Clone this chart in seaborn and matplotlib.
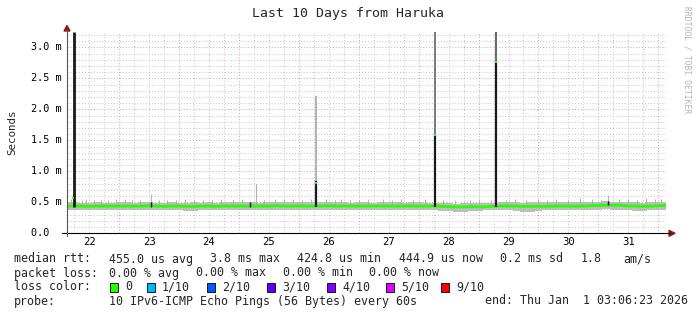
import numpy as np
import pandas as pd
import matplotlib
matplotlib.use("Agg")
import matplotlib.pyplot as plt
import seaborn as sns
from matplotlib.patches import Rectangle, Polygon
from matplotlib.lines import Line2D
import matplotlib.transforms as mtransforms

# ---------------- data ----------------
title = "Last 10 Days from Haruka"
start_day = 22.129          # Dec 22 03:06
step_days = 0.125           # 3-hour samples
median_ms = [0.44, 0.44, 0.44, 0.435, 0.44, 0.44, 0.44, 0.44,
             0.44, 0.44, 0.44, 0.445, 0.44, 0.435, 0.44, 0.44,
             0.435, 0.435, 0.44, 0.44, 0.435, 0.44, 0.44, 0.44,
             0.44, 0.44, 0.44, 0.44, 0.445, 0.44, 0.44, 0.44,
             0.44, 0.44, 0.44, 0.445, 0.44, 0.44, 0.44, 0.44,
             0.44, 0.44, 0.44, 0.44, 0.44, 0.44, 0.44, 0.44,
             0.44, 0.44, 0.435, 0.43, 0.425, 0.425, 0.43, 0.425,
             0.43, 0.435, 0.44, 0.44, 0.44, 0.435, 0.435, 0.435,
             0.435, 0.44, 0.44, 0.44, 0.44, 0.44, 0.445, 0.45,
             0.455, 0.455, 0.45, 0.44, 0.44, 0.435, 0.44, 0.445, 0.45]
smoke_high_ms = [0.50, 0.50, 0.49, 0.49, 0.50, 0.49, 0.49, 0.50,
                 0.50, 0.49, 0.50, 0.51, 0.49, 0.49, 0.50, 0.49,
                 0.49, 0.50, 0.49, 0.50, 0.49, 0.50, 0.51, 0.50,
                 0.50, 0.50, 0.49, 0.50, 0.51, 0.50, 0.50, 0.50,
                 0.50, 0.50, 0.50, 0.51, 0.50, 0.50, 0.49, 0.50,
                 0.50, 0.49, 0.50, 0.50, 0.50, 0.49, 0.50, 0.50,
                 0.49, 0.49, 0.49, 0.49, 0.48, 0.49, 0.49, 0.49,
                 0.49, 0.49, 0.50, 0.50, 0.50, 0.49, 0.50, 0.50,
                 0.50, 0.50, 0.50, 0.50, 0.50, 0.50, 0.51, 0.51,
                 0.52, 0.51, 0.50, 0.50, 0.50, 0.49, 0.50, 0.51, 0.51]
smoke_low_ms = [0.38, 0.38, 0.38, 0.37, 0.38, 0.38, 0.38, 0.38,
                0.38, 0.38, 0.38, 0.38, 0.38, 0.37, 0.37, 0.37,
                0.36, 0.36, 0.37, 0.37, 0.37, 0.37, 0.38, 0.38,
                0.38, 0.38, 0.38, 0.38, 0.38, 0.38, 0.38, 0.38,
                0.38, 0.38, 0.38, 0.38, 0.38, 0.38, 0.38, 0.38,
                0.38, 0.38, 0.38, 0.38, 0.37, 0.38, 0.38, 0.38,
                0.37, 0.37, 0.36, 0.36, 0.35, 0.35, 0.36, 0.36,
                0.37, 0.37, 0.37, 0.37, 0.36, 0.35, 0.35, 0.36,
                0.37, 0.37, 0.37, 0.38, 0.38, 0.37, 0.38, 0.38,
                0.39, 0.38, 0.37, 0.37, 0.36, 0.36, 0.37, 0.38, 0.38]

# thin single-ping outliers above the smoke
hair_day = [22.20, 22.27, 22.38, 22.45, 22.58, 22.70, 22.82, 22.95, 23.10,
            23.22, 23.35, 23.53, 23.66, 23.80, 23.95, 24.10, 24.25, 24.40,
            24.55, 24.70, 24.90, 25.05, 25.28, 25.42, 25.60, 25.75, 25.90,
            26.05, 26.20, 26.45, 26.60, 26.70, 26.85, 27.00, 27.15, 27.40,
            27.55, 27.70, 27.90, 28.10, 28.40, 28.60, 28.85, 29.00, 29.20,
            29.45, 29.60, 29.80, 30.00, 30.15, 30.30, 30.50, 30.70, 30.90,
            31.05, 31.16, 31.35, 31.50, 31.65, 31.80, 31.95, 32.05]
hair_top_ms = [0.55, 0.60, 0.53, 0.55, 0.53, 0.54, 0.53, 0.55, 0.55,
               0.53, 0.54, 0.64, 0.53, 0.54, 0.53, 0.56, 0.53, 0.54,
               0.53, 0.55, 0.54, 0.56, 0.80, 0.54, 0.55, 0.56, 0.55,
               0.54, 0.55, 0.56, 0.54, 0.56, 0.53, 0.54, 0.55, 0.56,
               0.54, 0.55, 0.53, 0.56, 0.53, 0.54, 0.53, 0.55, 0.54,
               0.53, 0.56, 0.54, 0.56, 0.53, 0.55, 0.54, 0.57, 0.55,
               0.54, 0.62, 0.55, 0.56, 0.54, 0.57, 0.55, 0.56]

# small dense blips
blip_day = [23.53, 25.18, 31.16]
blip_low_ms = [0.42, 0.42, 0.45]
blip_high_ms = [0.50, 0.51, 0.52]

# large latency spikes
spike_day = [22.25, 26.28, 28.28, 29.29]
spike_dense_top_ms = [3.25, 0.85, 1.60, 2.78]
spike_smoke_top_ms = [3.25, 2.21, 3.25, 3.25]
spike_smoke_color = ["#333333", "#b0b0b0", "#7a7a7a", "#666666"]
spike_median_day = [22.23, 26.28, 28.28, 29.29]
spike_median_ms = [0.57, 0.82, 1.59, 2.77]

ytick_vals = [0.0, 0.5, 1.0, 1.5, 2.0, 2.5, 3.0]
ytick_labels = ["0.0  ", "0.5 m", "1.0 m", "1.5 m", "2.0 m", "2.5 m", "3.0 m"]
day_labels = ["22", "23", "24", "25", "26", "27", "28", "29", "30", "31"]

legend_rows = [
    [("median rtt:", 14), ("455.0 us avg", 109), ("3.8 ms max", 210),
     ("424.8 us min", 297), ("444.9 us now", 399), ("0.2 ms sd", 500),
     ("1.8", 581), ("am/s", 623)],
    [("packet loss:", 14), ("0.00 % avg", 109), ("0.00 % max", 196),
     ("0.00 % min", 283), ("0.00 % now", 369)],
    [("loss color:", 14)],
    [("probe:", 14), ("10 IPv6-ICMP Echo Pings (56 Bytes) every 60s", 109),
     ("end: Thu Jan  1 03:06:23 2026", 485)],
]
loss_labels = ["0", "1/10", "2/10", "3/10", "4/10", "5/10", "9/10"]
loss_colors = ["#26ff00", "#00b8ff", "#0059ff", "#5e00ff", "#7e00ff", "#dd00ff", "#ff0000"]
loss_box_x = [110, 147, 207, 267, 327, 386, 441]

# ---------------- drawing ----------------
sns.set_theme(style="white")
plt.rcParams['font.family'] = ['DejaVu Sans Mono', 'DejaVu Sans']

W, H = 697, 315
fig = plt.figure(figsize=(W / 100, H / 100), dpi=100)
fig.patch.set_facecolor("white")

x0, x1 = 67, 666
y0, y1 = 233.3, 32
ax = fig.add_axes([x0 / W, (H - y0) / H, (x1 - x0) / W, (y0 - y1) / H])
ax.set_facecolor("white")

days = start_day + step_days * np.arange(len(median_ms))
df = pd.DataFrame({"day": days, "median": median_ms,
                   "low": smoke_low_ms, "high": smoke_high_ms})

ax.set_xlim(22.129, 32.129)
ax.set_ylim(0, 3.25)

# grid
minor_x = np.arange(22.25, 32.13, 0.25)
major_x = np.arange(23, 33, 1)
minor_y = np.arange(0.1, 3.25, 0.1)
major_y = np.arange(0.5, 3.25, 0.5)
for v in minor_x:
    if abs(v - round(v)) > 1e-6:
        ax.axvline(v, color="#c4c4c4", lw=0.7, ls=(0, (1, 2)), zorder=0)
for v in minor_y:
    if abs(v * 2 - round(v * 2)) > 1e-6:
        ax.axhline(v, color="#c4c4c4", lw=0.7, ls=(0, (1, 2)), zorder=0)
for v in major_x:
    ax.axvline(v, color="#e89a9a", lw=0.7, ls=(0, (1, 2)), zorder=0)
for v in major_y:
    ax.axhline(v, color="#e89a9a", lw=0.7, ls=(0, (1, 2)), zorder=0)

# smoke
ax.fill_between(df["day"], df["low"], df["high"], step="mid",
                color="#bdbdbd", lw=0, zorder=1)
ax.vlines(hair_day, 0.45, hair_top_ms, color="#b0b0b0", lw=0.7, zorder=1)

# median line via seaborn
sns.lineplot(data=df, x="day", y="median", ax=ax, color="#26ff00",
             lw=2.0, zorder=3, legend=False)

# blips
ax.vlines(blip_day, blip_low_ms, blip_high_ms, color="#111111", lw=1.0, zorder=4)

# spikes
for d, dt, st, sc in zip(spike_day, spike_dense_top_ms, spike_smoke_top_ms, spike_smoke_color):
    ax.vlines(d, dt, st, color=sc, lw=1.4, zorder=4)
    ax.vlines(d, 0.42, dt, color="#1a1a1a", lw=1.6 if d > 23 else 2.0, zorder=4)
ax.scatter(spike_median_day, spike_median_ms, marker="s", s=3,
           color="#26ff00", linewidths=0, zorder=5)

ax.set_xticks([])
ax.set_yticks([])
ax.set_xlabel("")
ax.set_ylabel("")
for s in ax.spines.values():
    s.set_visible(False)

# y tick labels
blend_y = mtransforms.blended_transform_factory(fig.transFigure, ax.transData)
for v, lab in zip(ytick_vals, ytick_labels):
    ax.text(31 / W, v, lab, transform=blend_y, ha="left", va="center",
            fontsize=7.3, color="#000000")

# day labels
blend_x = mtransforms.blended_transform_factory(ax.transData, fig.transFigure)
for i, lab in enumerate(day_labels):
    ax.text(22.5 + i, 1 - 242 / H, lab, transform=blend_x, ha="center",
            va="center", fontsize=7.6, color="#000000")


def fx(px):
    return px / W


def fy(py):
    return 1 - py / H


# axis lines
fig.add_artist(Line2D([fx(62), fx(670)], [fy(233.3), fy(233.3)],
                      color="#000000", lw=0.8))
fig.add_artist(Line2D([fx(67), fx(67)], [fy(236), fy(29)],
                      color="#555555", lw=0.8))
fig.add_artist(Polygon([(fx(64), fy(31)), (fx(70), fy(31)), (fx(67), fy(25.5))],
                       closed=True, color="#8b1a1a", transform=fig.transFigure))
fig.add_artist(Polygon([(fx(669), fy(230.3)), (fx(669), fy(236.3)), (fx(675), fy(233.3))],
                       closed=True, color="#8b1a1a", transform=fig.transFigure))

# title and labels
fig.text(fx(347.5), fy(14), title, ha="center", va="center", fontsize=9.5)
fig.text(fx(12), fy(132), "Seconds", rotation=90, ha="center", va="center",
         fontsize=7.8)
fig.text(fx(687), fy(60), "RRDTOOL / TOBI OETIKER", rotation=270,
         ha="center", va="center", fontsize=5.8, color="#b4b4b4")

# legend rows
row_y = [259, 273, 287, 301]
for row, yy in zip(legend_rows, row_y):
    for txt, xx in row:
        fig.text(fx(xx), fy(yy), txt, ha="left", va="center", fontsize=8.4)
for lab, col, bx in zip(loss_labels, loss_colors, loss_box_x):
    fig.add_artist(Rectangle((fx(bx), fy(292)), 8 / W, 9 / H, facecolor=col,
                             edgecolor="#000000", lw=0.6,
                             transform=fig.transFigure))
    fig.text(fx(bx + 15), fy(287), lab, ha="left", va="center", fontsize=8.4)

fig.savefig("out.png", dpi=100, facecolor="white")
